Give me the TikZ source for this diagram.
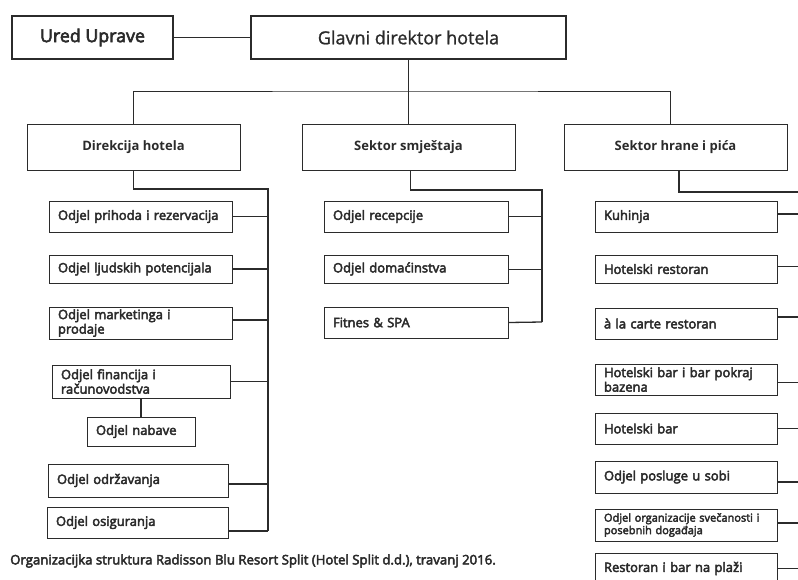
\documentclass[tikz,border=0pt]{standalone}
\usepackage{fontspec}
\setmainfont{Open Sans}
\newfontfamily\regf{Open Sans}[FakeBold=1.2]
\newfontfamily\semib{Open Sans}[FakeBold=3.5]
\usetikzlibrary{calc}
\definecolor{ink}{HTML}{2B2B2B}
\tikzset{
  topbox/.style={draw=ink, line width=1.8pt, text=ink, inner sep=0pt},
  hbox/.style={draw=ink, line width=0.9pt, text=ink, inner sep=0pt,
    minimum height=46pt, font=\bfseries\fontsize{13}{15}\selectfont},
  sub/.style={draw=ink, line width=0.9pt, text=ink, inner xsep=9pt, inner ysep=0pt,
    align=left, font=\semib\fontsize{13}{14.5}\selectfont},
  conn/.style={draw=ink, line width=1.3pt},
  thinconn/.style={draw=ink, line width=0.7pt},
  midconn/.style={draw=ink, line width=1pt}
}
\begin{document}
\begin{tikzpicture}[x=1pt, y=-1pt]
\useasboundingbox (0,0) rectangle (798,579);
\clip (0,0) rectangle (798,579);

% top level
\node[topbox, font=\semib\fontsize{17.8}{20}\selectfont, minimum width=161pt, minimum height=43pt] (ured) at (92.5,37.5) {Ured Uprave};
\node[topbox, font=\regf\fontsize{18}{20}\selectfont, minimum width=315pt, minimum height=43pt] (glavni) at (408.5,37.5) {Glavni direktor hotela};
\draw[conn] (ured) -- (glavni);

% sectors
\node[hbox, minimum width=213pt] (dir) at (133.5,147) {Direkcija hotela};
\node[hbox, minimum width=213pt] (smj) at (408.5,147) {Sektor smještaja};
\node[hbox, minimum width=223pt] (hr) at (675.5,147) {Sektor hrane i pića};

\coordinate (jt) at (408.5,91);
\draw[midconn] (glavni.south) -- (jt) -- (smj.north);
\draw[midconn] (dir.north) |- (jt) -| ([xshift=-5.5pt]hr.north);

% Direkcija hotela subtree
\coordinate (db) at (268,189);
\coordinate (dend) at (268,531);
\draw[conn] (dir.south) |- (db) -- (dend);

\node[sub, text width=165pt, minimum height=31pt] (prih) at (140.5,216.5) {Odjel prihoda i rezervacija};
\node[sub, text width=165pt, minimum height=28pt] (ljud) at (140.5,269) {Odjel ljudskih potencijala};
\node[sub, text width=165pt, minimum height=32pt] (mark) at (140.5,323) {Odjel marketinga i\\prodaje};
\node[sub, text width=160pt, minimum height=33pt] (fin) at (141,381.5) {Odjel financija i\\računovodstva};
\node[sub, text width=90pt, minimum height=29pt] (nab) at (141,431.5) {Odjel nabave};
\node[sub, text width=162pt, minimum height=33pt] (odr) at (138,480.5) {Odjel održavanja};
\node[sub, text width=163pt, minimum height=31pt] (osig) at (137.5,522.5) {Odjel osiguranja};

\draw[thinconn] (prih.east) -- (prih.east -| db);
\draw[conn] (ljud.east) -- (ljud.east -| db);
\draw[conn] ([yshift=3pt]mark.east) -- ([yshift=3pt]mark.east -| db);
\draw[conn] (fin.east) -- (fin.east -| db);
\draw[conn] (fin) -- (nab);
\draw[conn] ([yshift=-3.5pt]odr.east) -- ([yshift=-3.5pt]odr.east -| db);
\draw[conn] ([yshift=-8.5pt]osig.east) -- (dend);

% Sektor smjestaja subtree
\coordinate (sb) at (542,190);
\coordinate (send) at (542,322);
\draw[conn] ([xshift=2pt]smj.south) |- (sb) -- (send);

\node[sub, text width=166pt, minimum height=31pt] (rec) at (416,216.5) {Odjel recepcije};
\node[sub, text width=166pt, minimum height=28pt] (dom) at (416,269) {Odjel domaćinstva};
\node[sub, text width=166pt, minimum height=31pt] (fit) at (416,322.5) {Fitnes \& SPA};

\draw[conn] (rec.east) -- (rec.east -| sb);
\draw[thinconn] (dom.east) -- (dom.east -| sb);
\draw[conn] (fit.east) -- (send);

% Sektor hrane i pica subtree
\coordinate (hb) at (798,192);
\draw[conn] ([xshift=3.5pt]hr.south) |- (hb);

\node[sub, text width=164pt, minimum height=31pt] (kuh) at (686,216.5) {Kuhinja};
\node[sub, text width=164pt, minimum height=28pt] (hres) at (686,269) {Hotelski restoran};
\node[sub, text width=164pt, minimum height=31pt] (alc) at (686,323.5) {à la carte restoran};
\node[sub, text width=164pt, minimum height=31pt] (hbp) at (686,379.5) {Hotelski bar i bar pokraj\\bazena};
\node[sub, text width=164pt, minimum height=31pt] (hbar) at (686,428.5) {Hotelski bar};
\node[sub, text width=164pt, minimum height=32pt] (posl) at (686,477) {Odjel posluge u sobi};
\node[sub, text width=164pt, minimum height=32pt, font=\semib\fontsize{11}{12.5}\selectfont] (org) at (686,525) {Odjel organizacije svečanosti i\\posebnih događaja};
\node[sub, text width=164pt, minimum height=31pt] (plaza) at (686,568.5) {Restoran i bar na plaži};

\draw[conn] ([yshift=2.5pt]kuh.east) -- ([yshift=2.5pt]kuh.east -| hb);
\draw[thinconn] ([yshift=3pt]hres.east) -- ([yshift=3pt]hres.east -| hb);
\draw[conn] ([yshift=6.5pt]alc.east) -- ([yshift=6.5pt]alc.east -| hb);
\draw[thinconn] ([yshift=-2.5pt]hbp.east) -- ([yshift=-2.5pt]hbp.east -| hb);
\draw[thinconn] (hbar.east) -- (hbar.east -| hb);
\draw[conn] ([yshift=-5pt]posl.east) -- ([yshift=-5pt]posl.east -| hb);
\draw[conn] ([yshift=2pt]org.east) -- ([yshift=2pt]org.east -| hb);
\draw[conn] (plaza.east) -- (plaza.east -| hb);

% caption
\node[anchor=west, inner sep=0pt, text=ink, font=\semib\fontsize{13.2}{15}\selectfont] (cap) at (10,561) {Organizacijka struktura Radisson Blu Resort Split (Hotel Split d.d.), travanj 2016.};
\end{tikzpicture}
\end{document}
